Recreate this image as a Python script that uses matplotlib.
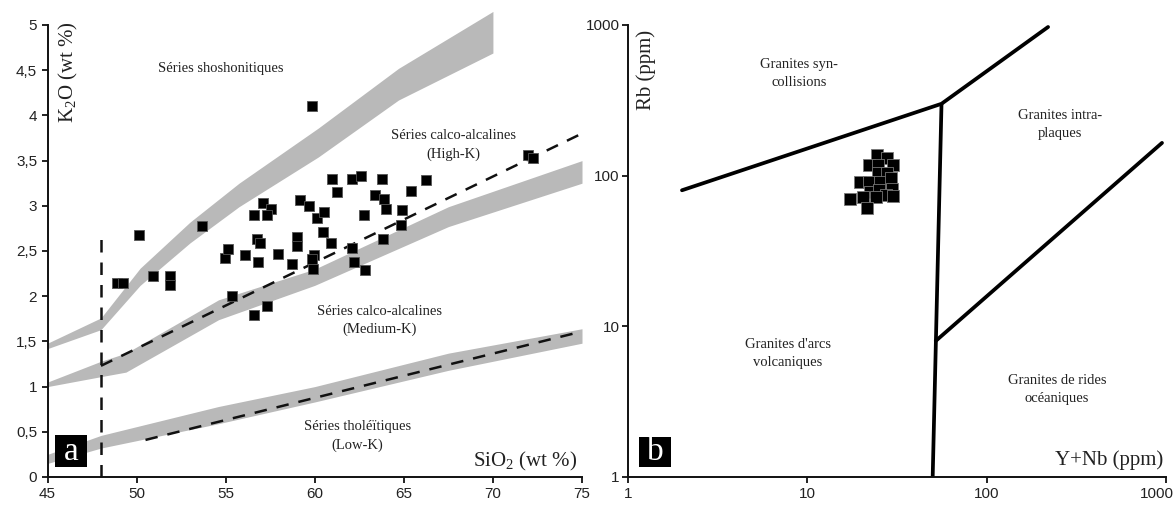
import matplotlib
matplotlib.use("Agg")
import matplotlib.pyplot as plt
from matplotlib.patches import Rectangle
from matplotlib.transforms import ScaledTranslation

plt.rcParams['mathtext.fontset'] = 'custom'
plt.rcParams['mathtext.rm'] = 'Liberation Serif'
plt.rcParams['mathtext.it'] = 'Liberation Serif'

SERIF = ['Liberation Serif', 'DejaVu Serif']
SANS = ['Liberation Sans', 'DejaVu Sans']

# ---------------- Panel a data (SiO2 vs K2O) ----------------
sio2 = [59.85, 50.13, 53.67, 48.9, 49.24, 50.91, 51.88, 51.9, 55.38, 56.59,
        57.3, 54.96, 55.14, 56.09, 56.78, 56.93, 56.82, 56.59, 57.1, 57.52,
        57.34, 57.95, 58.73, 59.01, 58.98, 59.16, 59.7, 60.1, 59.95, 59.89,
        60.97, 62.08, 62.59, 63.76, 66.27, 61.25, 63.39, 63.91, 65.4, 60.5,
        63.98, 64.92, 62.74, 60.45, 60.93, 64.84, 63.85, 62.08, 62.18, 62.83,
        71.96, 72.23, 59.85]
k2o = [4.10, 2.68, 2.78, 2.15, 2.15, 2.22, 2.22, 2.12, 2.00, 1.79,
       1.89, 2.42, 2.52, 2.46, 2.63, 2.59, 2.38, 2.90, 3.03, 2.97,
       2.90, 2.47, 2.36, 2.65, 2.55, 3.06, 3.00, 2.86, 2.46, 2.30,
       3.30, 3.30, 3.33, 3.30, 3.29, 3.15, 3.12, 3.08, 3.16, 2.93,
       2.96, 2.95, 2.90, 2.71, 2.59, 2.79, 2.63, 2.53, 2.38, 2.29,
       3.56, 3.53, 2.41]

# grey boundary bands (Peccerillo & Taylor)
band1_x = [45, 48, 50.2, 53, 55.75, 60.2, 64.7, 70]
band1_hi = [1.48, 1.76, 2.31, 2.82, 3.25, 3.86, 4.52, 5.15]
band1_lo = [1.42, 1.63, 2.12, 2.59, 2.99, 3.54, 4.17, 4.69]

band2_x = [45, 48, 49.4, 54.6, 60, 67.5, 75]
band2_hi = [1.05, 1.28, 1.37, 1.96, 2.30, 2.99, 3.50]
band2_lo = [1.00, 1.11, 1.16, 1.74, 2.12, 2.77, 3.25]

band3_x = [45, 48, 54.6, 60, 67.5, 75]
band3_hi = [0.25, 0.46, 0.78, 1.00, 1.37, 1.64]
band3_lo = [0.15, 0.32, 0.59, 0.83, 1.18, 1.48]

# dashed boundaries
dash1_x = [48, 75]
dash1_y = [1.23, 3.80]
dash2_x = [50.5, 75]
dash2_y = [0.41, 1.61]
vline_x = [48, 48]
vline_y = [0, 2.73]

a_xticks = [45, 50, 55, 60, 65, 70, 75]
a_yticks = [0, 0.5, 1, 1.5, 2, 2.5, 3, 3.5, 4, 4.5, 5]
a_yticklabels = ['0', '0,5', '1', '1,5', '2', '2,5', '3', '3,5', '4', '4,5', '5']

# ---------------- Panel b data (Y+Nb vs Rb) ----------------
ynb = [24.6, 27.9, 22.2, 24.9, 29.9, 24.9, 27.9, 19.7, 22.2, 25.4,
       29.2, 29.6, 22.4, 25.2, 27.5, 20.5, 30.2, 17.3, 24.2, 21.4]
rb = [137, 130, 118, 118, 118, 104, 104, 91, 91, 91,
      96, 82, 78, 80, 74, 72, 73, 70, 72, 61]

lineA_x = [2, 56, 220]
lineA_y = [80, 300, 970]
lineB_x = [56, 50]
lineB_y = [300, 1]
lineC_x = [52, 950]
lineC_y = [8, 165]

b_ticks = [1, 10, 100, 1000]
b_ticklabels = ['1', '10', '100', '1000']

# ---------------- Figure ----------------
fig = plt.figure(figsize=(11.75, 5.05), dpi=100)
ax1 = fig.add_axes([47.5 / 1175, 1 - 477 / 505, 534.5 / 1175, 452 / 505])
ax2 = fig.add_axes([628 / 1175, 1 - 477 / 505, 538 / 1175, 452 / 505])

grey = '#b9b9b9'
for ax in (ax1, ax2):
    ax.spines['top'].set_visible(False)
    ax.spines['right'].set_visible(False)
    for s in ('left', 'bottom'):
        ax.spines[s].set_linewidth(1.4)
        ax.spines[s].set_color('#111111')
    ax.tick_params(direction='out', length=4, width=1.3, colors='#111111',
                   labelsize=11, labelcolor='#222222')

# Panel a
ax1.fill_between(band1_x, band1_lo, band1_hi, color=grey, lw=0, zorder=1,
                 clip_on=False)
ax1.fill_between(band2_x, band2_lo, band2_hi, color=grey, lw=0, zorder=1)
ax1.fill_between(band3_x, band3_lo, band3_hi, color=grey, lw=0, zorder=1)
ax1.plot(dash1_x, dash1_y, color='#111111', lw=1.8, ls=(0, (5, 4)), zorder=2)
ax1.plot(dash2_x, dash2_y, color='#111111', lw=1.8, ls=(0, (5, 4)), zorder=2)
ax1.plot(vline_x, vline_y, color='#111111', lw=1.8, ls=(0, (5, 4)), zorder=2)
ax1.scatter(sio2, k2o, marker='s', s=62, c='black', edgecolors='#555555',
            linewidths=0.6, zorder=3)
ax1.set_xlim(45, 75)
ax1.set_ylim(0, 5)
ax1.set_xticks(a_xticks)
ax1.set_xticklabels([str(v) for v in a_xticks], family=SANS)
ax1.set_yticks(a_yticks)
ax1.set_yticklabels(a_yticklabels, family=SANS)

tkw = dict(family=SERIF, color='#222222', ha='center', va='center',
           linespacing=1.5)
ax1.text(54.75, 4.52, 'Séries shoshonitiques', fontsize=10.5, **tkw)
ax1.text(67.8, 3.67, 'Séries calco-alcalines\n(High-K)', fontsize=10.5, **tkw)
ax1.text(63.66, 1.73, 'Séries calco-alcalines\n(Medium-K)', fontsize=10.5, **tkw)
ax1.text(62.4, 0.45, 'Séries tholéïtiques\n(Low-K)', fontsize=10.5, **tkw)
ax1.text(74.7, 0.17, 'SiO$_2$ (wt %)', fontsize=15, family=SERIF,
         color='#222222', ha='right', va='center')
ax1.text(0.040, 0.895, 'K$_2$O (wt %)', fontsize=15, family=SERIF,
         color='#222222', ha='center', va='center', rotation=90,
         transform=ax1.transAxes)
ax1.add_patch(Rectangle((0.014, 0.022), 0.06, 0.071, transform=ax1.transAxes,
                        fc='black', ec='none', zorder=4))
ax1.text(0.044, 0.055, 'a', fontsize=24, family=SERIF, color='white',
         ha='center', va='center', transform=ax1.transAxes, zorder=5)

# Panel b
ax2.set_xscale('log')
ax2.set_yscale('log')
ax2.plot(lineA_x, lineA_y, color='black', lw=2.7, solid_capstyle='round', zorder=2)
ax2.plot(lineB_x, lineB_y, color='black', lw=2.7, solid_capstyle='butt', zorder=2)
ax2.plot(lineC_x, lineC_y, color='black', lw=2.7, solid_capstyle='round', zorder=2)
ax2.scatter(ynb, rb, marker='s', s=70, c='black', edgecolors='#777777',
            linewidths=0.6, zorder=3)
ax2.set_xlim(1, 1000)
ax2.set_ylim(1, 1000)
ax2.minorticks_off()
ax2.set_xticks(b_ticks)
ax2.set_xticklabels(b_ticklabels, family=SANS)
ax2.set_yticks(b_ticks)
ax2.set_yticklabels(b_ticklabels, family=SANS)
ax2.tick_params(axis='y', pad=2)
last = ax2.get_xticklabels()[-1]
last.set_horizontalalignment('right')
last.set_transform(last.get_transform() + ScaledTranslation(6 / 72, 0, fig.dpi_scale_trans))

ax2.text(9.0, 477, 'Granites syn-\ncollisions', fontsize=10.5, **tkw)
ax2.text(256, 217, 'Granites intra-\nplaques', fontsize=10.5, **tkw)
ax2.text(7.8, 6.6, "Granites d'arcs\nvolcaniques", fontsize=10.5, **tkw)
ax2.text(246, 3.78, 'Granites de rides\nocéaniques', fontsize=10.5, **tkw)
ax2.text(0.034, 0.9, 'Rb (ppm)', fontsize=15, family=SERIF, color='#222222',
         ha='center', va='center', rotation=90, transform=ax2.transAxes)
ax2.text(0.995, 0.038, 'Y+Nb (ppm)', fontsize=15, family=SERIF,
         color='#222222', ha='right', va='center', transform=ax2.transAxes)
ax2.add_patch(Rectangle((0.020, 0.022), 0.06, 0.066, transform=ax2.transAxes,
                        fc='black', ec='none', zorder=4))
ax2.text(0.050, 0.055, 'b', fontsize=24, family=SERIF, color='white',
         ha='center', va='center', transform=ax2.transAxes, zorder=5)

fig.savefig('out.png', dpi=100, facecolor='white')
